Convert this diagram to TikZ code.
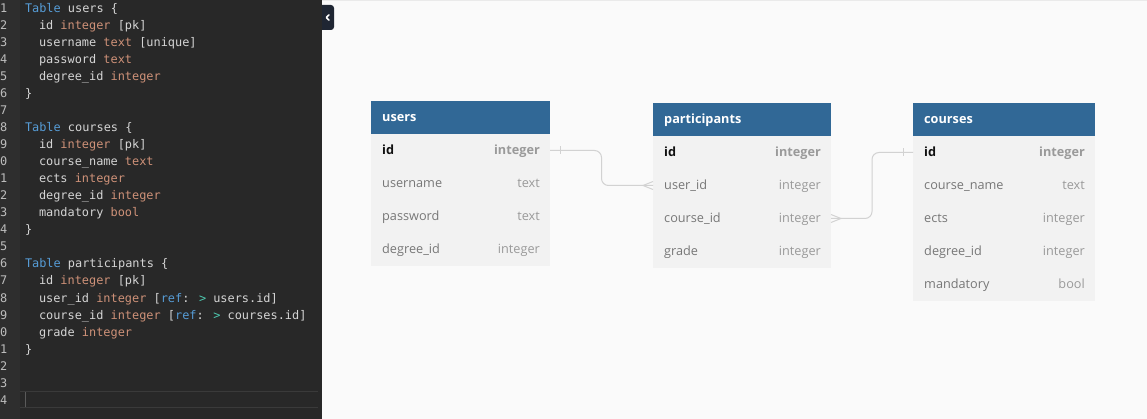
\documentclass[tikz,border=0pt]{standalone}
\usepackage{fontspec}
\setmainfont{Open Sans}
\newfontfamily\codefont{DejaVu Sans Mono}
\usetikzlibrary{calc}
\definecolor{edbg}{HTML}{282828}
\definecolor{gutbg}{HTML}{2E2E2E}
\definecolor{lnc}{HTML}{BDBDBD}
\definecolor{kwc}{HTML}{569CD6}
\definecolor{idc}{HTML}{D4D4D4}
\definecolor{tyc}{HTML}{CE9178}
\definecolor{opc}{HTML}{4EC9B0}
\definecolor{curl}{HTML}{3A3A3A}
\definecolor{curs}{HTML}{5A5A5A}
\definecolor{btnc}{HTML}{1F2633}
\definecolor{canvasc}{HTML}{FAFAFA}
\definecolor{topl}{HTML}{EAEAEA}
\definecolor{hdrc}{HTML}{316896}
\definecolor{bodyc}{HTML}{F2F2F2}
\definecolor{fnc}{HTML}{777777}
\definecolor{ftc}{HTML}{9A9A9A}
\definecolor{pkc}{HTML}{111111}
\definecolor{connc}{HTML}{D2D2D2}
\newcommand{\kw}[1]{\textcolor{kwc}{#1}}
\newcommand{\ty}[1]{\textcolor{tyc}{#1}}
\newcommand{\op}[1]{\textcolor{opc}{#1}}
\begin{document}
\begin{tikzpicture}[x=1pt,y=-1pt,
  code/.style={anchor=base west, inner sep=0pt, outer sep=0pt, text=idc,
    font=\codefont\fontsize{11.9}{14}\selectfont},
  lnum/.style={code, text=lnc},
  hdrbox/.style={fill=hdrc, draw=none, anchor=north west, inner sep=0pt, outer sep=0pt,
    minimum height=33, minimum width=#1},
  rowbox/.style={fill=bodyc, draw=none, anchor=north west, inner sep=0pt, outer sep=0pt,
    minimum height=33, minimum width=#1},
  htext/.style={anchor=base west, inner sep=0pt, text=white,
    font=\bfseries\fontsize{12.7}{15}\selectfont},
  fname/.style={anchor=base west, inner sep=0pt, text=fnc,
    font=\fontsize{12.7}{15}\selectfont},
  ftype/.style={anchor=base east, inner sep=0pt, text=ftc,
    font=\fontsize{12.7}{15}\selectfont},
  pkname/.style={fname, text=pkc, font=\bfseries\fontsize{12.7}{15}\selectfont},
  pktype/.style={ftype, font=\bfseries\fontsize{12.7}{15}\selectfont},
  conn/.style={draw=connc, line width=1pt},
  btn/.style={fill=btnc, draw=none, rounded corners=3pt, minimum width=15, minimum height=25, inner sep=0pt}
]
% background
\useasboundingbox (0,0) rectangle (1147,419);
\fill[canvasc] (0,0) rectangle (1147,419);
\draw[topl, line width=1pt] (322,0.5) -- (1147,0.5);
% collapse button
\node[btn] (toggle) at (326.5,17.5) {};
\draw[white, line width=1.5pt, line cap=round, line join=round] (329,14.8) -- (326.3,17.5) -- (329,20.2);
% editor
\fill[edbg] (0,0) rectangle (322,419);
\fill[gutbg] (0,0) rectangle (20,419);
\draw[curl, line width=1pt] (20,391.5) -- (318,391.5);
\draw[curl, line width=1pt] (20,407.5) -- (318,407.5);
\draw[curs, line width=1.5pt] (25.5,392) -- (25.5,407);
% line numbers
\foreach \d [count=\i] in {1,2,3,4,5,6,7,8,9,0,1,2,3,4,5,6,7,8,9,0,1,2,3,4}{
  \node[lnum] (ln\i) at (0,13+17*\i-17) {\d};
}
% code lines
\node[code] (c1) at (25,13) {\kw{Table} users \{};
\node[code] (c2) at (39,30) {id \ty{integer} [pk]};
\node[code] (c3) at (39,47) {username \ty{text} [unique]};
\node[code] (c4) at (39,64) {password \ty{text}};
\node[code] (c5) at (39,81) {degree\_id \ty{integer}};
\node[code] (c6) at (25,98) {\}};
\node[code] (c8) at (25,132) {\kw{Table} courses \{};
\node[code] (c9) at (39,149) {id \ty{integer} [pk]};
\node[code] (c10) at (39,166) {course\_name \ty{text}};
\node[code] (c11) at (39,183) {ects \ty{integer}};
\node[code] (c12) at (39,200) {degree\_id \ty{integer}};
\node[code] (c13) at (39,217) {mandatory \ty{bool}};
\node[code] (c14) at (25,234) {\}};
\node[code] (c16) at (25,268) {\kw{Table} participants \{};
\node[code] (c17) at (39,285) {id \ty{integer} [pk]};
\node[code] (c18) at (39,302) {user\_id \ty{integer} [\kw{ref}: \op{>} users.id]};
\node[code] (c19) at (39,319) {course\_id \ty{integer} [\kw{ref}: \op{>} courses.id]};
\node[code] (c20) at (39,336) {grade \ty{integer}};
\node[code] (c21) at (25,353) {\}};
% ---- users table
\node[hdrbox=179] (users) at (371,101) {};
\node[htext] (usersT) at ($(users.west)+(11,4)$) {users};
\node[rowbox=179] (uid) at (371,134) {};
\node[rowbox=179] (uuser) at (371,167) {};
\node[rowbox=179] (upass) at (371,200) {};
\node[rowbox=179] (udeg) at (371,233) {};
\node[pkname] (uidN) at ($(uid.west)+(11,4)$) {id};
\node[pktype] (uidT) at ($(uid.east)+(-10,4)$) {integer};
\node[fname] (uuserN) at ($(uuser.west)+(11,4)$) {username};
\node[ftype] (uuserT) at ($(uuser.east)+(-10,4)$) {text};
\node[fname] (upassN) at ($(upass.west)+(11,4)$) {password};
\node[ftype] (upassT) at ($(upass.east)+(-10,4)$) {text};
\node[fname] (udegN) at ($(udeg.west)+(11,4)$) {degree\_id};
\node[ftype] (udegT) at ($(udeg.east)+(-10,4)$) {integer};
% ---- participants table
\node[hdrbox=178] (parts) at (653,103) {};
\node[htext] (partsT) at ($(parts.west)+(11,4)$) {participants};
\node[rowbox=178] (pid) at (653,136) {};
\node[rowbox=178] (puid) at (653,169) {};
\node[rowbox=178] (pcid) at (653,202) {};
\node[rowbox=178] (pgr) at (653,235) {};
\node[pkname] (pidN) at ($(pid.west)+(11,4)$) {id};
\node[pktype] (pidT) at ($(pid.east)+(-10,4)$) {integer};
\node[fname] (puidN) at ($(puid.west)+(11,4)$) {user\_id};
\node[ftype] (puidT) at ($(puid.east)+(-10,4)$) {integer};
\node[fname] (pcidN) at ($(pcid.west)+(11,4)$) {course\_id};
\node[ftype] (pcidT) at ($(pcid.east)+(-10,4)$) {integer};
\node[fname] (pgrN) at ($(pgr.west)+(11,4)$) {grade};
\node[ftype] (pgrT) at ($(pgr.east)+(-10,4)$) {integer};
% ---- courses table
\node[hdrbox=182] (courses) at (913,103) {};
\node[htext] (coursesT) at ($(courses.west)+(11,4)$) {courses};
\node[rowbox=182] (cid) at (913,136) {};
\node[rowbox=182] (cname) at (913,169) {};
\node[rowbox=182] (cects) at (913,202) {};
\node[rowbox=182] (cdeg) at (913,235) {};
\node[rowbox=182] (cmand) at (913,268) {};
\node[pkname] (cidN) at ($(cid.west)+(11,4)$) {id};
\node[pktype] (cidT) at ($(cid.east)+(-10,4)$) {integer};
\node[fname] (cnameN) at ($(cname.west)+(11,4)$) {course\_name};
\node[ftype] (cnameT) at ($(cname.east)+(-10,4)$) {text};
\node[fname] (cectsN) at ($(cects.west)+(11,4)$) {ects};
\node[ftype] (cectsT) at ($(cects.east)+(-10,4)$) {integer};
\node[fname] (cdegN) at ($(cdeg.west)+(11,4)$) {degree\_id};
\node[ftype] (cdegT) at ($(cdeg.east)+(-10,4)$) {integer};
\node[fname] (cmandN) at ($(cmand.west)+(11,4)$) {mandatory};
\node[ftype] (cmandT) at ($(cmand.east)+(-10,4)$) {bool};
% ---- connectors
\draw[conn, rounded corners=7pt] (uid.east) -| ($(uid.east)!0.5!(puid.west)$) |- (puid.west);
\draw[conn] ($(uid.east)+(10,-4)$) -- ($(uid.east)+(10,4)$);
\draw[conn] ($(puid.west)+(0,-4)$) -- ($(puid.west)+(-10,0)$) -- ($(puid.west)+(0,4)$);
\draw[conn, rounded corners=7pt] (pcid.east) -| ($(pcid.east)!0.5!(cid.west)$) |- (cid.west);
\draw[conn] ($(pcid.east)+(0,-4)$) -- ($(pcid.east)+(10,0)$) -- ($(pcid.east)+(0,4)$);
\draw[conn] ($(cid.west)+(-10,-4)$) -- ($(cid.west)+(-10,4)$);
\end{tikzpicture}
\end{document}
